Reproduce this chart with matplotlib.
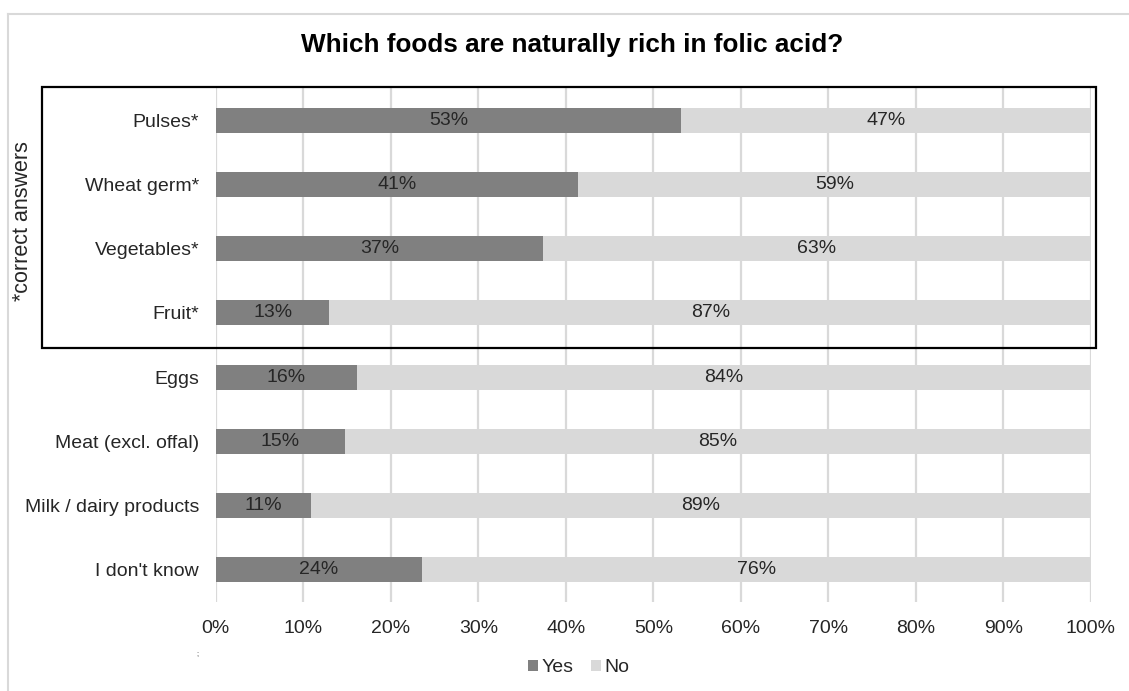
import matplotlib
matplotlib.use('Agg')
import matplotlib.pyplot as plt
from matplotlib.patches import Patch, Rectangle
from matplotlib.lines import Line2D

plt.rcParams['font.family'] = ['Liberation Sans', 'DejaVu Sans']

categories = ['Pulses*', 'Wheat germ*', 'Vegetables*', 'Fruit*', 'Eggs',
              'Meat (excl. offal)', 'Milk / dairy products', "I don't know"]
yes = [53.2, 41.4, 37.4, 13.0, 16.1, 14.8, 10.9, 23.6]
no = [100 - v for v in yes]
series_names = ['Yes', 'No']

c_yes = '#808080'
c_no = '#d9d9d9'
txt = '#262626'

W, H = 1129, 691
fig = plt.figure(figsize=(W / 100, H / 100), dpi=100)
ax = fig.add_axes([215.7 / W, 1 - 602 / H, (1091 - 215.7) / W, (602 - 88) / H])

ypos = list(range(len(categories)))
ax.barh(ypos, yes, height=0.39, color=c_yes, zorder=2)
ax.barh(ypos, no, left=yes, height=0.39, color=c_no, zorder=2)

for i in ypos:
    ax.text(yes[i] / 2, i, f'{round(yes[i])}%', ha='center', va='center',
            fontsize=14, color=txt, zorder=3)
    ax.text(yes[i] + no[i] / 2, i, f'{round(no[i])}%', ha='center', va='center',
            fontsize=14, color=txt, zorder=3)

ax.set_xlim(0, 100)
ax.set_ylim(len(categories) - 0.5, -0.5)
ax.set_yticks(ypos)
ax.set_yticklabels(categories)
ax.set_xticks(range(0, 101, 10))
ax.set_xticklabels([f'{t}%' for t in range(0, 101, 10)])
ax.tick_params(axis='both', length=0, labelsize=14, labelcolor=txt)
ax.tick_params(axis='x', pad=13)
ax.tick_params(axis='y', pad=12)
ax.grid(axis='x', color='#d9d9d9', linewidth=1.6, zorder=0)
for s in ax.spines.values():
    s.set_visible(False)

fig.text(572 / W, 1 - 45 / H, 'Which foods are naturally rich in folic acid?',
         ha='center', va='center', fontsize=18.8, fontweight='bold', color='black')

# box around correct answers
fig.patches.append(Rectangle((42 / W, 1 - 348 / H), (1096 - 42) / W, (348 - 87) / H,
                             transform=fig.transFigure, fill=False,
                             edgecolor='black', linewidth=1.6, zorder=5))
fig.text(23 / W, 1 - 221 / H, '*correct answers', rotation=90, ha='center',
         va='center', fontsize=15.5, color=txt)

# outer frame of the cropped screenshot
fig.lines.append(Line2D([8 / W, 1], [1 - 14 / H, 1 - 14 / H], transform=fig.transFigure,
                        color='#d9d9d9', linewidth=1.5))
fig.lines.append(Line2D([8 / W, 8 / W], [0, 1 - 14 / H], transform=fig.transFigure,
                        color='#d9d9d9', linewidth=1.5))

fig.text(197 / W, 1 - 654 / H, ';', fontsize=5, ha='center', va='center', color=txt)

handles = [Patch(facecolor=c_yes), Patch(facecolor=c_no)]
fig.legend(handles, series_names, loc='center', bbox_to_anchor=(579 / W, 1 - 668 / H),
           ncol=2, frameon=False, fontsize=14, handlelength=0.5, handleheight=0.5,
           handletextpad=0.2, columnspacing=0.9, labelcolor=txt)

fig.savefig('out.png', dpi=100)
